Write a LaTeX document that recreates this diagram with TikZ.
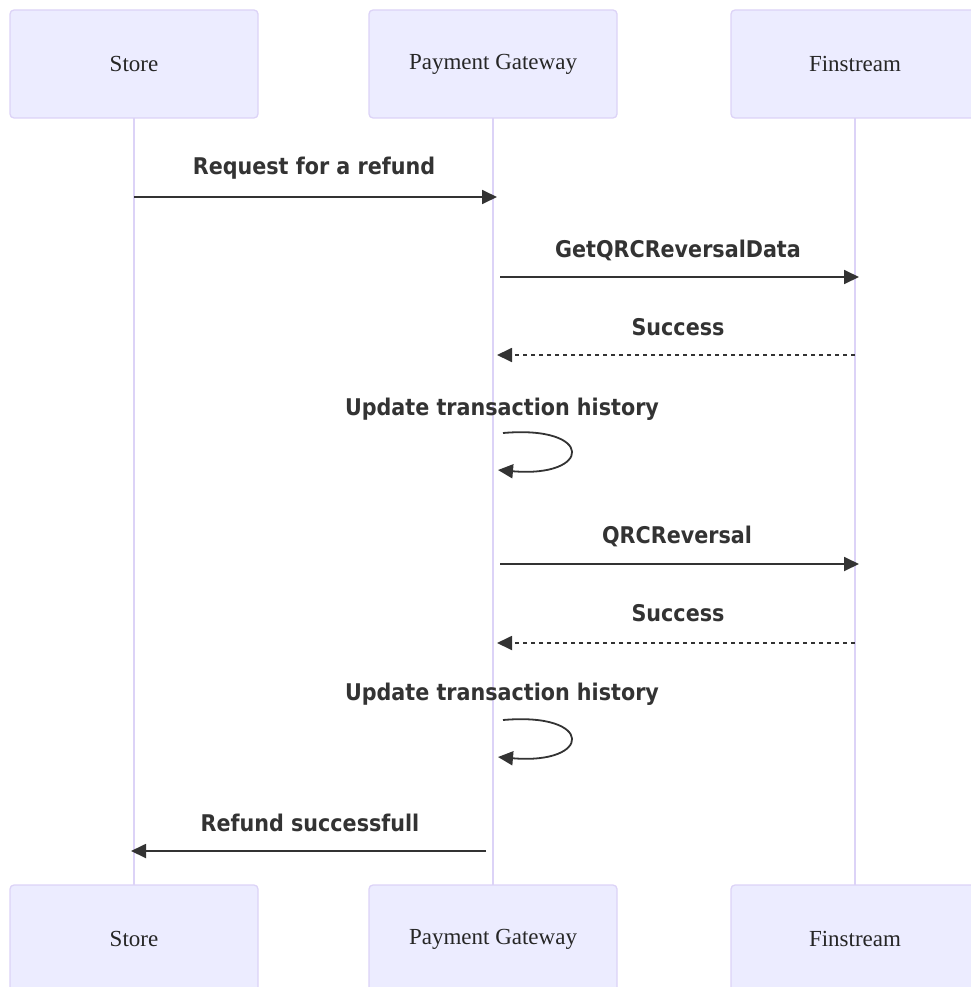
\documentclass[tikz,border=0pt]{standalone}
\usepackage{fontspec}
\setmainfont{Liberation Serif}
\newfontfamily\msgfont{DejaVu Sans Condensed}
\usetikzlibrary{arrows.meta}
\definecolor{actfill}{HTML}{ECECFF}
\definecolor{actline}{HTML}{DCD3F7}
\definecolor{msgcol}{HTML}{333333}
\tikzset{
  actor/.style={draw=actline, line width=1.3pt, fill=actfill, rounded corners=4pt,
    minimum width=248pt, minimum height=108pt, inner sep=0pt,
    font=\fontsize{23}{26}\selectfont, text=black!85},
  life/.style={draw=actline, line width=2pt},
  msg/.style={draw=msgcol, line width=1.8pt, -{Triangle[length=15pt,width=14pt]}},
  reply/.style={msg, dash pattern=on 4pt off 4pt},
  lbl/.style={font=\msgfont\bfseries\fontsize{23}{26}\selectfont, text=msgcol, inner sep=0pt}
}
\begin{document}
\begin{tikzpicture}[x=1pt,y=-1pt]
\useasboundingbox (0,0) rectangle (970,987);
% lifelines
\coordinate (sT) at (134,118); \coordinate (sB) at (134,885);
\coordinate (pT) at (493,118); \coordinate (pB) at (493,885);
\coordinate (fT) at (855,118); \coordinate (fB) at (855,885);
\draw[life] (sT) -- (sB);
\draw[life] (pT) -- (pB);
\draw[life] (fT) -- (fB);
% actors
\node[actor] (store1) at (134,64) {Store};
\node[actor] (pg1) at (493,64) {Payment Gateway};
\node[actor] (fin1) at (855,64) {Finstream};
\node[actor] (store2) at (134,939) {Store};
\node[actor] (pg2) at (493,939) {Payment Gateway};
\node[actor] (fin2) at (855,939) {Finstream};
% message endpoints
\coordinate (m1a) at (134,197); \coordinate (m1b) at (497,197);
\coordinate (m2a) at (500,277); \coordinate (m2b) at (859,277);
\coordinate (m3a) at (855,355); \coordinate (m3b) at (497,355);
\coordinate (l1a) at (503,433); \coordinate (l1b) at (498,470);
\coordinate (m5a) at (500,564); \coordinate (m5b) at (859,564);
\coordinate (m6a) at (855,643); \coordinate (m6b) at (497,643);
\coordinate (l2a) at (503,720); \coordinate (l2b) at (498,757);
\coordinate (m8a) at (486,851); \coordinate (m8b) at (131,851);
% labels
\node[lbl] (t1) at (314,168) {Request for a refund};
\node[lbl] (t2) at (678,250) {GetQRCReversalData};
\node[lbl] (t3) at (678,327) {Success};
\node[lbl] (t4) at (502,409) {Update transaction history};
\node[lbl] (t5) at (677,536) {QRCReversal};
\node[lbl] (t6) at (678,613) {Success};
\node[lbl] (t7) at (502,694) {Update transaction history};
\node[lbl] (t8) at (310,823) {Refund successfull};
% arrows
\draw[msg] (m1a) -- (m1b);
\draw[msg] (m2a) -- (m2b);
\draw[reply] (m3a) -- (m3b);
\draw[msg] (l1a) .. controls (595,425) and (592,478) .. (l1b);
\draw[msg] (m5a) -- (m5b);
\draw[reply] (m6a) -- (m6b);
\draw[msg] (l2a) .. controls (595,712) and (592,765) .. (l2b);
\draw[msg] (m8a) -- (m8b);
\end{tikzpicture}
\end{document}
